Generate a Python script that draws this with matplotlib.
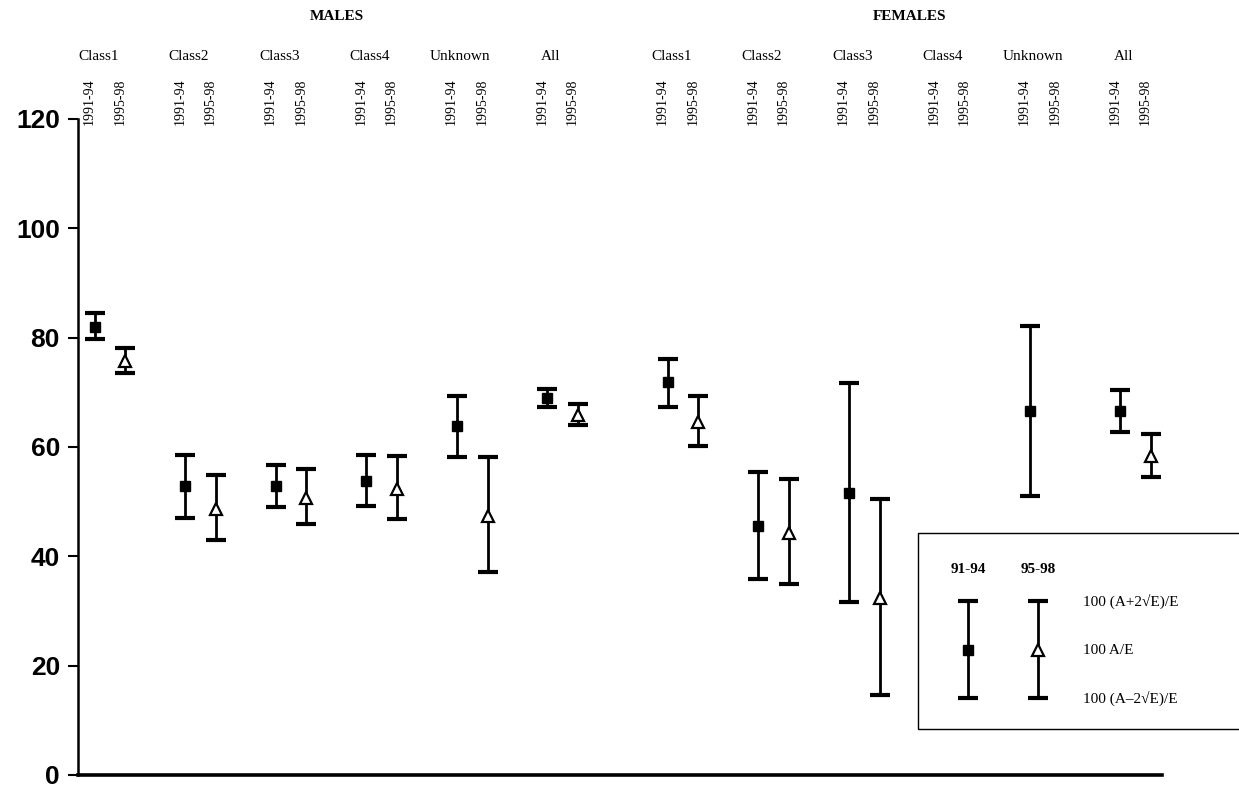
import numpy as np
import matplotlib
matplotlib.use("Agg")
import matplotlib.pyplot as plt
from matplotlib.patches import Rectangle

# Actual/expected ratios (x100) with approximate 2*sqrt(E) limits
classes = ["Class1", "Class2", "Class3", "Class4", "Unknown", "All"]
periods = ["1991-94", "1995-98"]

male_9194 = [82.0, 52.8, 52.8, 53.8, 63.8, 69.0]
male_9194_hi = [84.5, 58.6, 56.7, 58.5, 69.4, 70.6]
male_9194_lo = [79.8, 47.0, 49.0, 49.2, 58.2, 67.4]

male_9598 = [75.7, 48.6, 50.7, 52.4, 47.4, 65.8]
male_9598_hi = [78.2, 54.9, 55.9, 58.4, 58.2, 67.9]
male_9598_lo = [73.5, 43.0, 45.9, 46.9, 37.1, 64.0]

female_9194 = [71.8, 45.5, 51.5, np.nan, 66.5, 66.5]
female_9194_hi = [76.1, 55.5, 71.7, np.nan, 82.1, 70.5]
female_9194_lo = [67.4, 35.8, 31.6, np.nan, 51.0, 62.8]

female_9598 = [64.5, 44.3, 32.3, np.nan, np.nan, 58.4]
female_9598_hi = [69.3, 54.2, 50.5, np.nan, np.nan, 62.4]
female_9598_lo = [60.2, 35.0, 14.7, np.nan, np.nan, 54.5]

# Legend key example
key_value = 22.8
key_hi = 31.8
key_lo = 14.1

plt.rcParams["font.family"] = ["Liberation Serif", "DejaVu Serif"]

fig = plt.figure(figsize=(12.39, 7.90), dpi=100)
ax = fig.add_axes([78 / 1239, 15 / 790, (1162 - 78) / 1239, (775 - 119) / 790])

group_gap = 0.33          # extra space between the male and female blocks
pair_off = 0.17           # offset of each period inside a class group
male_x = np.arange(len(classes), dtype=float)
female_x = np.arange(len(classes), dtype=float) + len(classes) + group_gap


def draw(xs, vals, hi, lo, marker):
    vals = np.asarray(vals, float)
    hi = np.asarray(hi, float)
    lo = np.asarray(lo, float)
    ok = ~np.isnan(vals)
    if marker == "s":
        mkw = dict(marker="s", markersize=7, markerfacecolor="black",
                   markeredgecolor="black")
    else:
        mkw = dict(marker="^", markersize=9, markerfacecolor="white",
                   markeredgecolor="black", markeredgewidth=1.6)
    ax.errorbar(xs[ok], vals[ok], yerr=[vals[ok] - lo[ok], hi[ok] - vals[ok]],
                fmt="none", ecolor="black", elinewidth=2.0, capsize=7,
                capthick=3.0, zorder=2)
    ax.plot(xs[ok], vals[ok], linestyle="none", zorder=3, **mkw)


draw(male_x - pair_off, male_9194, male_9194_hi, male_9194_lo, "s")
draw(male_x + pair_off, male_9598, male_9598_hi, male_9598_lo, "^")
draw(female_x - pair_off, female_9194, female_9194_hi, female_9194_lo, "s")
draw(female_x + pair_off, female_9598, female_9598_hi, female_9598_lo, "^")

ax.set_xlim(-0.354, 11.62)
ax.set_ylim(0, 120)
ax.set_yticks([0, 20, 40, 60, 80, 100, 120])
ax.set_xticks([])
for lab in ax.get_yticklabels():
    lab.set_fontfamily("Liberation Sans")
    lab.set_fontweight("bold")
    lab.set_fontsize(19)
ax.tick_params(axis="y", direction="out", length=7, width=1.5, pad=6)
ax.spines["top"].set_visible(False)
ax.spines["right"].set_visible(False)
ax.spines["left"].set_linewidth(1.8)
ax.spines["bottom"].set_linewidth(2.6)

hdr = ("data", "figure pixels")
# Block titles
ax.annotate("MALES", xy=(male_x.mean(), 790 - 17), xycoords=hdr,
            ha="center", va="center", fontsize=11, fontweight="bold",
            annotation_clip=False)
ax.annotate("FEMALES", xy=(female_x.mean(), 790 - 17), xycoords=hdr,
            ha="center", va="center", fontsize=11, fontweight="bold",
            annotation_clip=False)

# Class names and period labels
for xs in (male_x, female_x):
    for x, name in zip(xs, classes):
        ax.annotate(name, xy=(x - 0.13, 790 - 57), xycoords=hdr,
                    ha="center", va="center", fontsize=11,
                    annotation_clip=False)
        for off, per in zip((-pair_off, pair_off), periods):
            ax.annotate(per, xy=(x + off - 0.06, 790 - 102), xycoords=hdr,
                        ha="center", va="center", fontsize=10, rotation=90,
                        annotation_clip=False)

# Key box
box = Rectangle((8.92, 8.5), 4.0, 44.2 - 8.5, transform=ax.transData,
                fill=False, edgecolor="black", linewidth=1.0,
                clip_on=False, zorder=1)
ax.add_patch(box)

kx1, kx2 = 9.48, 10.25
ax.text(kx1, 37.6, "91-94", ha="center", va="center", fontsize=11,
        fontweight="bold")
ax.text(kx2, 37.6, "95-98", ha="center", va="center", fontsize=11,
        fontweight="bold")
draw(np.array([kx1]), [key_value], [key_hi], [key_lo], "s")
draw(np.array([kx2]), [key_value], [key_hi], [key_lo], "^")
tx = 10.75
ax.text(tx, key_hi, "100 (A+2\u221aE)/E", ha="left", va="center", fontsize=11,
        clip_on=False)
ax.text(tx, key_value, "100 A/E", ha="left", va="center", fontsize=11,
        clip_on=False)
ax.text(tx, key_lo, "100 (A\u20132\u221aE)/E", ha="left", va="center",
        fontsize=11, clip_on=False)

fig.savefig("out.png", dpi=100)
